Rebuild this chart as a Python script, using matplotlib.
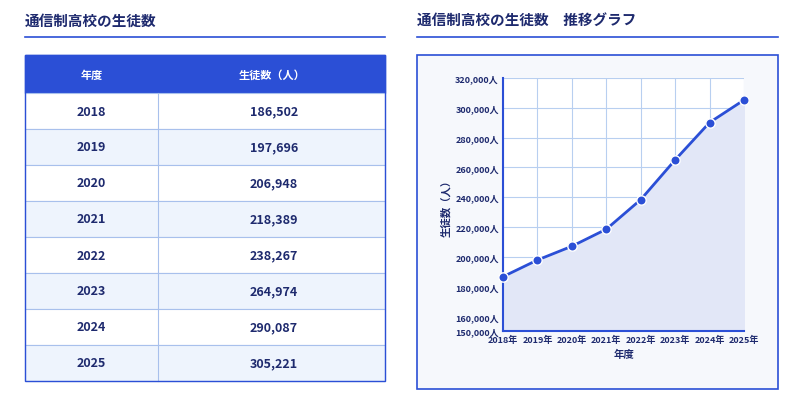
import matplotlib
matplotlib.use("Agg")
import matplotlib.pyplot as plt
from matplotlib.patches import Rectangle

plt.rcParams['font.family'] = ['Noto Sans CJK JP', 'DejaVu Sans']

years = [2018, 2019, 2020, 2021, 2022, 2023, 2024, 2025]
students = [186502, 197696, 206948, 218389, 238267, 264974, 290087, 305221]
yticks = [150000, 160000, 180000, 200000, 220000, 240000, 260000, 280000, 300000, 320000]
title_left = "通信制高校の生徒数"
title_right = "通信制高校の生徒数　推移グラフ"
col_headers = ["年度", "生徒数（人）"]

W, H = 800, 406
BLUE = "#2b4fd6"
NAVY = "#1e2a6e"
fig = plt.figure(figsize=(W/100, H/100), dpi=100)
fig.patch.set_facecolor("white")

def fx(x): return x / W
def fy(y): return 1 - y / H

# background overlay axes in pixel coords
bg = fig.add_axes([0, 0, 1, 1])
bg.set_xlim(0, W); bg.set_ylim(H, 0); bg.axis("off")

# titles
bg.text(25, 21, title_left, fontsize=10.5, fontweight="bold", color=NAVY, va="center")
bg.text(417, 21, title_right, fontsize=10.5, fontweight="bold", color=NAVY, va="center")
bg.plot([25, 385], [38, 38], color=BLUE, lw=1.2)
bg.plot([417, 778], [38, 38], color=BLUE, lw=1.2)

# table
tx0, tx1, tsplit = 25, 385, 158
ty0, hh = 56, 38
rh = (382 - 94) / len(years)
bg.add_patch(Rectangle((tx0, ty0), tx1 - tx0, hh, color=BLUE, zorder=1))
bg.text((tx0 + tsplit) / 2, ty0 + hh / 2, col_headers[0], color="white", fontsize=8, fontweight="bold", ha="center", va="center")
bg.text(272, ty0 + hh / 2, col_headers[1], color="white", fontsize=8, fontweight="bold", ha="center", va="center")
for i, (yr, v) in enumerate(zip(years, students)):
    y = 94 + i * rh
    bg.add_patch(Rectangle((tx0, y), tx1 - tx0, rh, facecolor="white" if i % 2 == 0 else "#eef4fd",
                           edgecolor="#a8c0ec", lw=0.8, zorder=1))
    bg.text((tx0 + tsplit) / 2, y + rh / 2, str(yr), color=NAVY, fontsize=9, fontweight="bold", ha="center", va="center")
    bg.text(298, y + rh / 2, f"{v:,}", color=NAVY, fontsize=9, fontweight="bold", ha="right", va="center")
bg.plot([tsplit, tsplit], [94, 382], color="#a8c0ec", lw=0.8, zorder=2)
bg.add_patch(Rectangle((tx0, ty0), tx1 - tx0, 382 - ty0, fill=False, edgecolor=BLUE, lw=1, zorder=3))

# chart panel
bg.add_patch(Rectangle((417, 56), 361, 334, facecolor="#f6f8fc", edgecolor=BLUE, lw=1.2, zorder=1))

ax = fig.add_axes([fx(503), fy(332), fx(744) - fx(503), fy(79) - fy(332)])
ax.set_facecolor("white")
ax.set_xlim(years[0], years[-1])
ax.set_ylim(150000, 320000)
ax.fill_between(years, students, 150000, color="#e2e7f7", zorder=1)
ax.plot(years, students, color=BLUE, lw=2, zorder=3)
ax.scatter(years, students, s=45, color=BLUE, edgecolor="white", linewidth=1, zorder=4, clip_on=False)
ax.set_xticks(years)
ax.set_xticklabels([f"{y}年" for y in years], fontsize=6.5, color=NAVY, fontweight="bold")
ax.set_yticks(yticks)
ax.set_yticklabels([f"{t:,}人" for t in yticks], fontsize=6.5, color=NAVY, fontweight="bold")
ax.grid(True, color="#b8cff0", lw=0.8, zorder=0)
ax.set_axisbelow(True)
ax.tick_params(length=0, pad=3)
for s in ["top", "right"]:
    ax.spines[s].set_visible(False)
for s in ["left", "bottom"]:
    ax.spines[s].set_color(BLUE); ax.spines[s].set_linewidth(1.5)
ax.set_xlabel("年度", fontsize=7.5, color=NAVY, fontweight="bold", labelpad=3)
ax.set_ylabel("生徒数（人）", fontsize=7.5, color=NAVY, fontweight="bold", labelpad=3)

fig.savefig("out.png", dpi=100, facecolor="white")
